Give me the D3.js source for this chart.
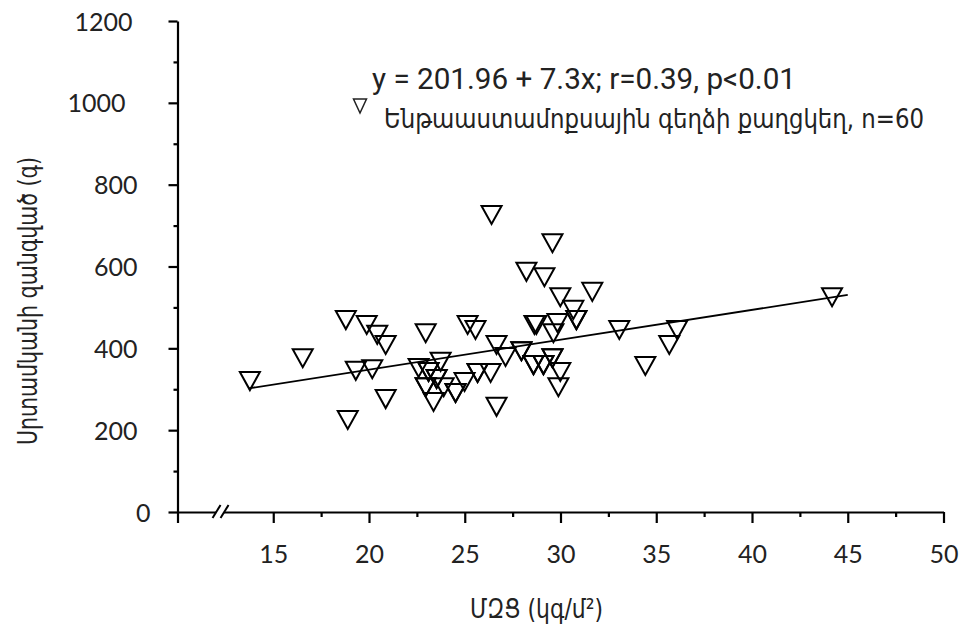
<!DOCTYPE html>
<html>
<head>
<meta charset="utf-8">
<script src="https://cdn.jsdelivr.net/npm/d3@7"></script>
<style>
body { margin: 0; background: #fff; }
svg { display: block; }
</style>
</head>
<body>
<script>
// BMI (x) and heart mass (y), n=60 (some hidden under others)
var bmi = [13.78, 16.54, 18.79, 18.89, 19.31, 19.88, 20.17, 20.43, 20.87, 20.87,
           22.96, 22.59, 23.74, 23.11, 23.53, 22.96, 23.90, 24.52, 23.37, 24.99,
           25.67, 26.35, 26.66, 25.15, 25.56, 26.40, 29.58, 28.22, 29.16, 29.99,
           31.66, 30.67, 30.83, 28.64, 28.74, 29.84, 29.63, 26.66, 27.96, 27.13,
           28.59, 29.11, 29.58, 29.99, 29.89, 33.07, 36.09, 35.68, 34.43, 44.18,
           23.53, 29.11, 25.67, 30.83, 22.96, 28.59, 29.58, 23.11, 24.52, 27.96];
var mass = [320, 376, 469, 225, 345, 457, 349, 433, 408, 276,
            437, 352, 367, 342, 325, 305, 305, 291, 269, 318,
            340, 340, 257, 457, 445, 726, 657, 587, 574, 525,
            538, 494, 469, 457, 457, 462, 437, 408, 393, 379,
            359, 359, 376, 342, 305, 445, 445, 408, 357, 525,
            325, 359, 340, 469, 305, 359, 376, 342, 291, 393];

var xMajor = [10, 15, 20, 25, 30, 35, 40, 45, 50];
var xMinor = [17.5, 22.5, 27.5, 32.5, 37.5, 42.5, 47.5];
var yMajor = [0, 200, 400, 600, 800, 1000, 1200];
var yMinor = [100, 300, 500, 700, 900, 1100];

var fitA = 201.96, fitB = 7.3;
var fitRange = [13.7, 45];

var eqText = "y = 201.96 + 7.3x; r=0.39, p<0.01";
var legendText = "Ենթաաստամոքսային գեղձի քաղցկեղ, n=60";
var yTitle = "Սրտամկանի զանգված (գ)";
var xTitle = "ՄԶՑ (կգ/մ²)";

var width = 968, height = 634;

var svg = d3.select("body").append("svg")
    .attr("width", width)
    .attr("height", height);

var x = d3.scaleLinear().domain([10, 50]).range([177.5, 943.5]);
var y = d3.scaleLinear().domain([0, 1200]).range([512, 21]);

var tickFont = "Lato, 'Open Sans', sans-serif";

// x axis
var gx = svg.append("g")
    .attr("transform", "translate(0," + y(0) + ")")
    .call(d3.axisBottom(x).tickValues(xMajor).tickSize(11).tickSizeOuter(0)
        .tickFormat(function(d) { return d === 10 ? "" : d; }));

svg.append("g")
    .attr("transform", "translate(0," + y(0) + ")")
    .call(d3.axisBottom(x).tickValues(xMinor).tickSize(5).tickFormat(""))
    .select(".domain").remove();

gx.selectAll("text")
    .attr("y", 51)
    .attr("dy", 0)
    .style("font-family", tickFont)
    .style("font-size", "25px")
    .style("fill", "#222");

// y axis
var yShift = function(d) {
    if (d === 0) return 13;
    if (d === 1000) return -12;
    if (d === 1200) return -5;
    return 0;
};

var gy = svg.append("g")
    .attr("transform", "translate(" + x(10) + ",0)")
    .call(d3.axisLeft(y).tickValues(yMajor).tickSize(9).tickSizeOuter(0)
        .tickFormat(d3.format("d")));

svg.append("g")
    .attr("transform", "translate(" + x(10) + ",0)")
    .call(d3.axisLeft(y).tickValues(yMinor).tickSize(4).tickFormat(""))
    .select(".domain").remove();

gy.selectAll("text")
    .attr("x", function(d) { return -40 + yShift(d); })
    .attr("dy", "0.36em")
    .style("font-family", tickFont)
    .style("font-size", "25px")
    .style("fill", "#222");

svg.selectAll(".domain, .tick line")
    .attr("stroke", "#000")
    .attr("stroke-width", 2.2);

// axis break on x axis
var bx = x(12.3), by = y(0);
svg.append("path")
    .attr("d", "M" + (bx - 9) + "," + (by + 6) + "L" + (bx - 1) + "," + (by - 6) +
               "L" + (bx + 7) + "," + (by - 6) + "L" + (bx - 1) + "," + (by + 6) + "Z")
    .style("fill", "#fff");
[bx - 9, bx - 1].forEach(function(s) {
    svg.append("line")
        .attr("x1", s).attr("y1", by + 6)
        .attr("x2", s + 8).attr("y2", by - 7)
        .style("stroke", "#000")
        .style("stroke-width", 2);
});

// regression line
var line = d3.line()
    .x(function(d) { return x(d); })
    .y(function(d) { return y(fitA + fitB * d); });

svg.append("path")
    .attr("d", line(fitRange))
    .style("fill", "none")
    .style("stroke", "#000")
    .style("stroke-width", 1.8);

// down-pointing triangle markers
function triDown(w, h) {
    return {
        draw: function(ctx) {
            ctx.moveTo(-w / 2, -h / 2);
            ctx.lineTo(w / 2, -h / 2);
            ctx.lineTo(0, h / 2);
            ctx.closePath();
        }
    };
}
var sym = d3.symbol().type(triDown(20, 18));

svg.append("g").selectAll("path")
    .data(d3.range(bmi.length))
    .enter().append("path")
    .attr("d", sym)
    .attr("transform", function(i) { return "translate(" + x(bmi[i]) + "," + y(mass[i]) + ")"; })
    .style("fill", "none")
    .style("stroke", "#000")
    .style("stroke-width", 2)
    .style("stroke-linejoin", "miter");

// legend
var legFont = "Roboto, 'DejaVu Sans', sans-serif";
var armFont = "'DejaVu Sans Condensed', 'DejaVu Sans', sans-serif";

svg.append("text")
    .attr("x", 372).attr("y", 89)
    .attr("textLength", 424)
    .attr("lengthAdjust", "spacingAndGlyphs")
    .style("font-family", legFont)
    .style("font-size", "29px")
    .style("fill", "#222")
    .text(eqText);

svg.append("path")
    .attr("d", d3.symbol().type(triDown(13, 14))())
    .attr("transform", "translate(360,106)")
    .style("fill", "none")
    .style("stroke", "#222")
    .style("stroke-width", 1.5);

svg.append("text")
    .attr("x", 384).attr("y", 128)
    .attr("textLength", 540)
    .attr("lengthAdjust", "spacingAndGlyphs")
    .style("font-family", armFont)
    .style("font-stretch", "condensed")
    .style("font-size", "26px")
    .style("fill", "#222")
    .text(legendText);

// axis titles
svg.append("text")
    .attr("transform", "translate(37,301) rotate(-90)")
    .attr("text-anchor", "middle")
    .attr("textLength", 288)
    .attr("lengthAdjust", "spacingAndGlyphs")
    .style("font-family", armFont)
    .style("font-stretch", "condensed")
    .style("font-size", "26px")
    .style("fill", "#222")
    .text(yTitle);

svg.append("text")
    .attr("x", 470).attr("y", 618)
    .attr("textLength", 133)
    .attr("lengthAdjust", "spacingAndGlyphs")
    .style("font-family", armFont)
    .style("font-stretch", "condensed")
    .style("font-size", "26px")
    .style("fill", "#222")
    .text(xTitle);
</script>
</body>
</html>
